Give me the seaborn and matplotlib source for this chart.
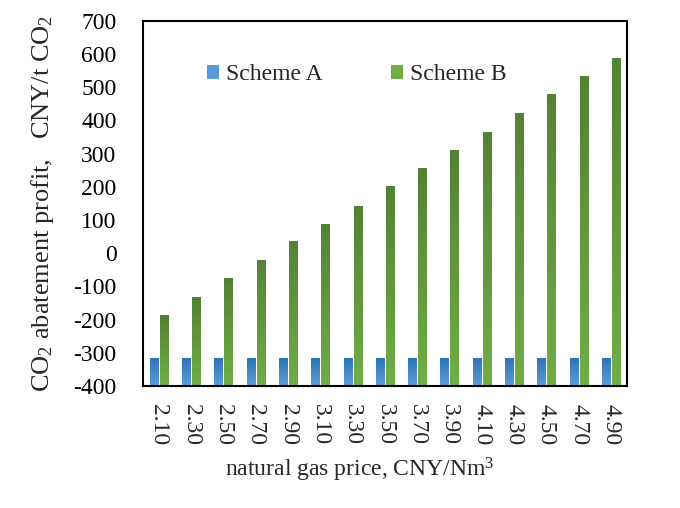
import numpy as np
import pandas as pd
import seaborn as sns
import matplotlib.pyplot as plt
from matplotlib.patches import Patch
from matplotlib.colors import LinearSegmentedColormap

# data
prices = ["2.10", "2.30", "2.50", "2.70", "2.90", "3.10", "3.30", "3.50",
          "3.70", "3.90", "4.10", "4.30", "4.50", "4.70", "4.90"]
scheme_a = [-315] * 15
scheme_b = [-187, -131, -74, -20, 36, 88, 143, 203, 258, 312, 366, 421, 480, 534, 589]

df = pd.DataFrame({
    "price": prices * 2,
    "profit": scheme_a + scheme_b,
    "scheme": ["Scheme A"] * 15 + ["Scheme B"] * 15,
})

sns.set_style("white")
plt.rcParams["font.family"] = ["Liberation Serif", "DejaVu Serif"]
plt.rcParams["mathtext.fontset"] = "custom"
plt.rcParams["mathtext.rm"] = "Liberation Serif"
plt.rcParams["mathtext.default"] = "regular"
plt.rcParams["axes.unicode_minus"] = False

fs = 17

fig = plt.figure(figsize=(6.8, 5.08), dpi=100)
ax = fig.add_axes([0.210, 0.240, 0.712, 0.719])

top_col = {"Scheme A": "#2e75b6", "Scheme B": "#548235"}
bot_col = {"Scheme A": "#5b9bd5", "Scheme B": "#70ad47"}

sns.barplot(data=df, x="price", y="profit", hue="scheme", ax=ax,
            palette=top_col, width=0.62, gap=0.2, legend=False)

base = -400

# bars start at the axis floor (-400), filled with a vertical gradient
grad = np.linspace(0, 1, 64).reshape(-1, 1)
for i, p in enumerate(ax.patches):
    name = "Scheme A" if i < 15 else "Scheme B"
    h = p.get_y() + p.get_height()
    p.set_y(base)
    p.set_height(h - base)
    p.set_facecolor("none")
    p.set_edgecolor("none")
    cmap = LinearSegmentedColormap.from_list(name, [bot_col[name], top_col[name]])
    x0 = p.get_x()
    im = ax.imshow(grad, cmap=cmap, origin="lower", aspect="auto",
                   extent=[x0, x0 + p.get_width(), base, h], zorder=2)
    im.set_clip_path(p)
ax.set_xlim(-0.5, 14.5)
ax.set_ylim(-400, 700)

ax.set_yticks(range(-400, 701, 100))
ax.tick_params(axis="y", direction="in", length=5, width=1.2, pad=19,
               labelsize=fs, colors="black")
ax.set_xticks(range(15))
ax.set_xticklabels(prices, rotation=270, fontsize=fs)
ax.tick_params(axis="x", which="major", length=0, pad=13)
ax.set_xticks(np.arange(0.5, 14, 1), minor=True)
ax.tick_params(axis="x", which="minor", direction="in", length=5, width=1.2)

for s in ax.spines.values():
    s.set_visible(True)
    s.set_color("black")
    s.set_linewidth(1.5)

ax.set_xlabel("natural gas price, CNY/Nm$^3$", fontsize=fs)
ax.xaxis.set_label_coords(0.448, -0.19)
ax.set_ylabel("CO$_2$ abatement profit,   CNY/t CO$_2$", fontsize=19)
ax.yaxis.set_label_coords(-0.18, 0.5)

handles = [Patch(facecolor=bot_col[k], edgecolor="none") for k in ["Scheme A", "Scheme B"]]
ax.legend(handles, ["Scheme A", "Scheme B"], ncol=2, frameon=False, fontsize=fs,
          handlelength=0.5, handleheight=0.5, handletextpad=0.3, columnspacing=2.9,
          borderaxespad=0, loc="center left", bbox_to_anchor=(0.113, 0.852))

fig.savefig("out.png", dpi=100)
